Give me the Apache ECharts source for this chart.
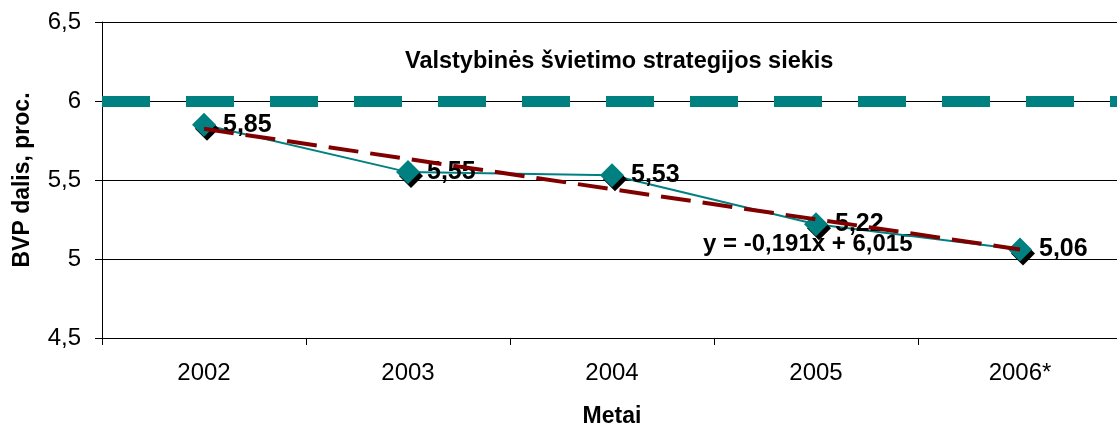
<!DOCTYPE html>
<html>
<head>
<meta charset="utf-8">
<script src="https://cdn.jsdelivr.net/npm/echarts@6/dist/echarts.min.js"></script>
<style>
  html, body { margin: 0; padding: 0; background: #fff; }
  #chart { width: 1117px; height: 427px; }
</style>
</head>
<body>
<div id="chart"></div>
<script>
// data
const years = ['2002', '2003', '2004', '2005', '2006*'];
const shares = [5.85, 5.55, 5.53, 5.22, 5.06];
const trendSlope = -0.191;
const trendIntercept = 6.015;
const targetLevel = 6;

const trend = years.map((y, i) => +(trendIntercept + trendSlope * (i + 1)).toFixed(3));
const comma = v => String(v).replace('.', ',');
const font = 'Liberation Sans, Arial, sans-serif';

const chart = echarts.init(document.getElementById('chart'));
chart.setOption({
  animation: false,
  grid: { left: 102, top: 22, width: 1020, height: 316, containLabel: false, outerBoundsMode: 'none' },
  xAxis: {
    type: 'category',
    data: years,
    boundaryGap: true,
    name: 'Metai',
    nameLocation: 'middle',
    nameGap: 67,
    nameTextStyle: { fontFamily: font, fontSize: 23, fontWeight: 'bold', color: '#000' },
    axisLine: { lineStyle: { color: '#000', width: 1 } },
    axisTick: { show: true, length: 7, lineStyle: { color: '#000' } },
    axisLabel: { fontFamily: font, fontSize: 24, color: '#000', margin: 23 }
  },
  yAxis: {
    type: 'value',
    min: 4.5,
    max: 6.5,
    interval: 0.5,
    name: 'BVP dalis, proc.',
    nameLocation: 'middle',
    nameGap: 68,
    nameRotate: 90,
    nameTextStyle: { fontFamily: font, fontSize: 23, fontWeight: 'bold', color: '#000' },
    axisLine: { show: true, lineStyle: { color: '#000', width: 1 } },
    axisTick: { show: true, length: 7, lineStyle: { color: '#000' } },
    axisLabel: { fontFamily: font, fontSize: 24, color: '#000', margin: 21, formatter: v => comma(v) },
    splitLine: { show: true, lineStyle: { color: '#000', width: 1 } }
  },
  series: [
    {
      name: 'siekis',
      type: 'line',
      data: [],
      markLine: {
        silent: true,
        symbol: 'none',
        label: { show: false },
        lineStyle: { color: '#008080', width: 11, type: [48, 36] },
        data: [{ yAxis: targetLevel }]
      }
    },
    {
      name: 'BVP dalis',
      type: 'line',
      data: shares,
      z: 3,
      lineStyle: { color: '#008080', width: 2 },
      symbol: 'diamond',
      symbolSize: 24,
      itemStyle: {
        color: '#008080',
        shadowColor: '#000',
        shadowBlur: 0,
        shadowOffsetX: 3,
        shadowOffsetY: 4
      },
      label: {
        show: true,
        position: 'right',
        distance: 7,
        fontFamily: font,
        fontSize: 25,
        fontWeight: 'bold',
        color: '#000',
        formatter: p => comma(p.value)
      }
    },
    {
      name: 'trend',
      type: 'line',
      data: trend,
      z: 4,
      symbol: 'none',
      lineStyle: { color: '#800000', width: 4, type: [30, 12] }
    }
  ],
  graphic: [
    {
      type: 'text',
      left: 405,
      top: 50,
      style: {
        text: 'Valstybinės švietimo strategijos siekis',
        font: 'bold 23.5px ' + font,
        fill: '#000'
      }
    },
    {
      type: 'text',
      left: 703,
      top: 232,
      style: {
        text: 'y = -0,191x + 6,015',
        font: 'bold 24px ' + font,
        fill: '#000'
      }
    }
  ]
});
</script>
</body>
</html>
